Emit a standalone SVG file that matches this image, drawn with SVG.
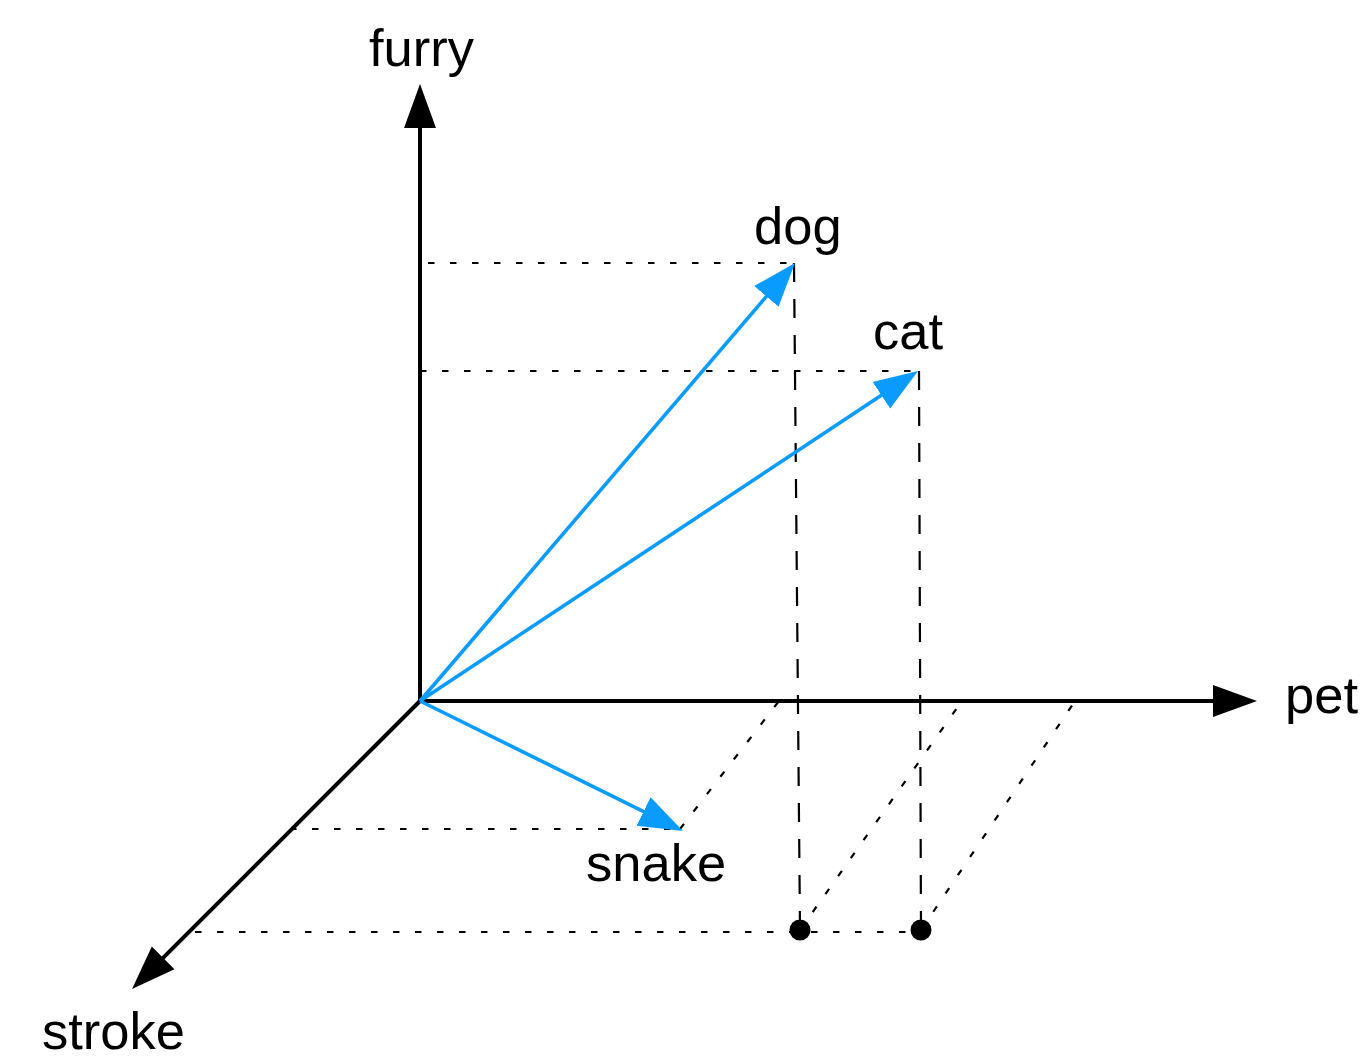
<svg xmlns="http://www.w3.org/2000/svg" width="1362" height="1064" viewBox="0 0 1362 1064">
<style>
.axis{stroke:#000;stroke-width:4;fill:none}
.vec{stroke:#0a9bff;stroke-width:3.6;fill:none}
.dot{stroke:#000;stroke-width:2.2;stroke-dasharray:6.5 15.5;fill:none}
.dash{stroke:#000;stroke-width:2.2;stroke-dasharray:19 17;fill:none}
.lbl{font-family:"Liberation Sans",Arial,sans-serif;font-size:52.5px;fill:#000}
</style>
<defs>
<marker id="ah" markerUnits="userSpaceOnUse" markerWidth="46" markerHeight="34" viewBox="0 -17 46 34" refX="34" refY="0" orient="auto"><path d="M0,-16 L44,0 L0,16 z" fill="#000"/></marker>
<marker id="ahb" markerUnits="userSpaceOnUse" markerWidth="46" markerHeight="34" viewBox="0 -17 46 34" refX="34" refY="0" orient="auto"><path d="M0,-16 L44,0 L0,16 z" fill="#0a9bff"/></marker>
</defs>
<g id="guides">
<line class="dot" x1="428" y1="263" x2="794" y2="263"/>
<line class="dot" x1="420" y1="371" x2="918" y2="371"/>
<line class="dot" x1="290" y1="829" x2="680" y2="829"/>
<line class="dot" x1="195" y1="932" x2="921" y2="932"/>
<line class="dot" x1="680" y1="829" x2="779" y2="701"/>
<line class="dot" x1="800" y1="930" x2="962" y2="701"/>
<line class="dot" x1="921" y1="930" x2="1075" y2="701"/>
<line class="dash" x1="794" y1="263" x2="800" y2="930"/>
<line class="dash" x1="919" y1="371" x2="921" y2="930"/>
</g>
<g id="connectors">
<line class="axis" x1="420" y1="701" x2="420" y2="94" marker-end="url(#ah)"/>
<line class="axis" x1="420" y1="701" x2="1247" y2="701" marker-end="url(#ah)"/>
<line class="axis" x1="420" y1="701" x2="139.1" y2="981.9" marker-end="url(#ah)"/>
<line class="vec" x1="420" y1="701" x2="788.5" y2="270.6" marker-end="url(#ahb)"/>
<line class="vec" x1="420" y1="701" x2="909.7" y2="376.5" marker-end="url(#ahb)"/>
<line class="vec" x1="420" y1="701" x2="674" y2="826.6" marker-end="url(#ahb)"/>
</g>
<g id="dot-dog"><circle cx="800" cy="930" r="10.5" fill="#000"/></g>
<g id="dot-cat"><circle cx="921" cy="930" r="10.5" fill="#000"/></g>
<g id="label-furry"><text class="lbl" x="369" y="66">furry</text></g>
<g id="label-dog"><text class="lbl" x="754" y="244">dog</text></g>
<g id="label-cat"><text class="lbl" x="873" y="349">cat</text></g>
<g id="label-pet"><text class="lbl" x="1285" y="713">pet</text></g>
<g id="label-snake"><text class="lbl" x="586" y="881">snake</text></g>
<g id="label-stroke"><text class="lbl" x="42" y="1049">stroke</text></g>
</svg>
